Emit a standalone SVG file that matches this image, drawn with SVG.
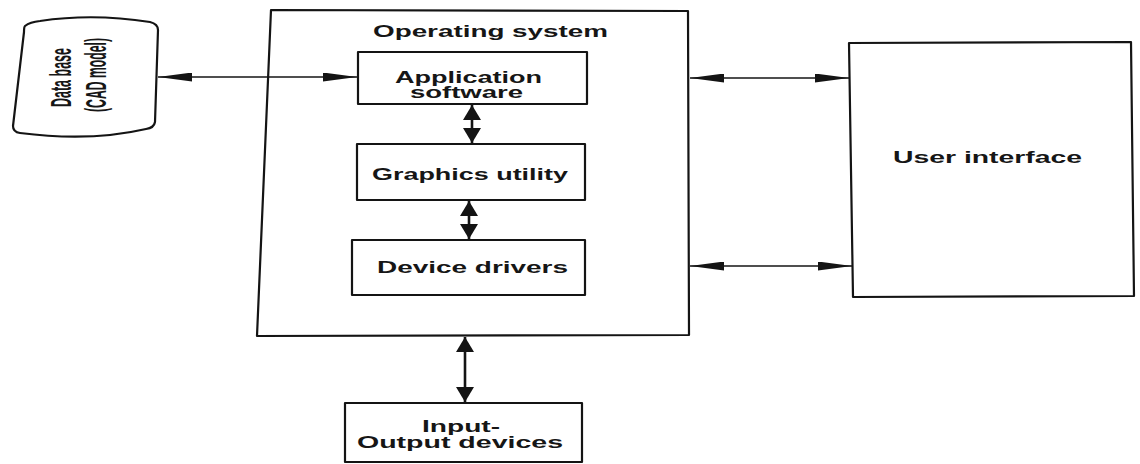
<svg xmlns="http://www.w3.org/2000/svg" width="1140" height="464" viewBox="0 0 1140 464">
  <style>
    .box { fill: none; stroke: #141414; stroke-width: 2.2; stroke-linejoin: round; }
    .lbl { font-family: "Liberation Sans", Arial, sans-serif; font-weight: bold; font-size: 16px; fill: #161616; }
    .dbl { font-family: "Liberation Sans", Arial, sans-serif; font-weight: bold; font-size: 13px; fill: #161616; }
    .thin { fill: none; stroke: #141414; stroke-width: 1.5; }
    .thick { fill: none; stroke: #141414; stroke-width: 2.6; }
  </style>
  <defs>
    <!-- long narrow arrowhead for the horizontal links -->
    <marker id="barb" markerUnits="userSpaceOnUse" viewBox="0 0 34 9" refX="34" refY="4.5" markerWidth="34" markerHeight="9" orient="auto-start-reverse">
      <path d="M0,0 L34,4.5 L0,9 Z" fill="#141414"/>
    </marker>
    <!-- short wide arrowhead for the vertical links -->
    <marker id="head" markerUnits="userSpaceOnUse" viewBox="0 0 15 18" refX="15" refY="9" markerWidth="15" markerHeight="18" orient="auto-start-reverse">
      <path d="M0,0 L15,9 L0,18 Z" fill="#141414"/>
    </marker>
  </defs>
  <rect width="1140" height="464" fill="#ffffff"/>

  <g id="database">
    <path class="box" d="M25,26 Q30,22 40,21 Q93,13 150,22 Q158,24 158,30 L155,122 Q154,128 146,129 Q90,142 20,133 Q13,132 13,126 L24,32 Q24,27 25,26 Z"/>
    <!-- label runs bottom-to-top, glyphs widened across the column -->
    <g transform="rotate(-90) scale(1,2.3)">
      <text class="dbl" x="-107" y="31" textLength="59" lengthAdjust="spacingAndGlyphs">Data base</text>
      <text class="dbl" x="-112" y="46.3" textLength="74" lengthAdjust="spacingAndGlyphs">(CAD model)</text>
    </g>
  </g>

  <g id="operating-system">
    <polygon class="box" points="271,10 688,11 689,335 257,336"/>
    <text class="lbl" x="373" y="37" textLength="235" lengthAdjust="spacingAndGlyphs">Operating system</text>
  </g>

  <g id="application-software">
    <rect class="box" x="358" y="52" width="229" height="52"/>
    <text class="lbl" x="395" y="83" textLength="147" lengthAdjust="spacingAndGlyphs">Application</text>
    <text class="lbl" x="410" y="98" textLength="113" lengthAdjust="spacingAndGlyphs">software</text>
  </g>

  <g id="graphics-utility">
    <rect class="box" x="357" y="144" width="228" height="56"/>
    <text class="lbl" x="372" y="180" textLength="196" lengthAdjust="spacingAndGlyphs">Graphics utility</text>
  </g>

  <g id="device-drivers">
    <rect class="box" x="352" y="240" width="233" height="55"/>
    <text class="lbl" x="377" y="273" textLength="191" lengthAdjust="spacingAndGlyphs">Device drivers</text>
  </g>

  <g id="user-interface">
    <polygon class="box" points="849,43 1131,42 1134,296 853,297"/>
    <text class="lbl" x="893" y="163" textLength="189" lengthAdjust="spacingAndGlyphs">User interface</text>
  </g>

  <g id="input-output-devices">
    <rect class="box" x="345" y="403" width="237" height="59"/>
    <text class="lbl" x="422" y="432" textLength="78" lengthAdjust="spacingAndGlyphs">Input-</text>
    <text class="lbl" x="357" y="448" textLength="206" lengthAdjust="spacingAndGlyphs">Output devices</text>
  </g>

  <g id="connectors">
    <path class="thin" d="M158,77 H357" marker-start="url(#barb)" marker-end="url(#barb)"/>
    <path class="thin" d="M690,78 H849" marker-start="url(#barb)" marker-end="url(#barb)"/>
    <path class="thin" d="M690,266 H852" marker-start="url(#barb)" marker-end="url(#barb)"/>
    <path class="thick" d="M472,105 V143" marker-start="url(#head)" marker-end="url(#head)"/>
    <path class="thick" d="M469,201 V239" marker-start="url(#head)" marker-end="url(#head)"/>
    <path class="thick" d="M465,337 V402" marker-start="url(#head)" marker-end="url(#head)"/>
  </g>
</svg>
